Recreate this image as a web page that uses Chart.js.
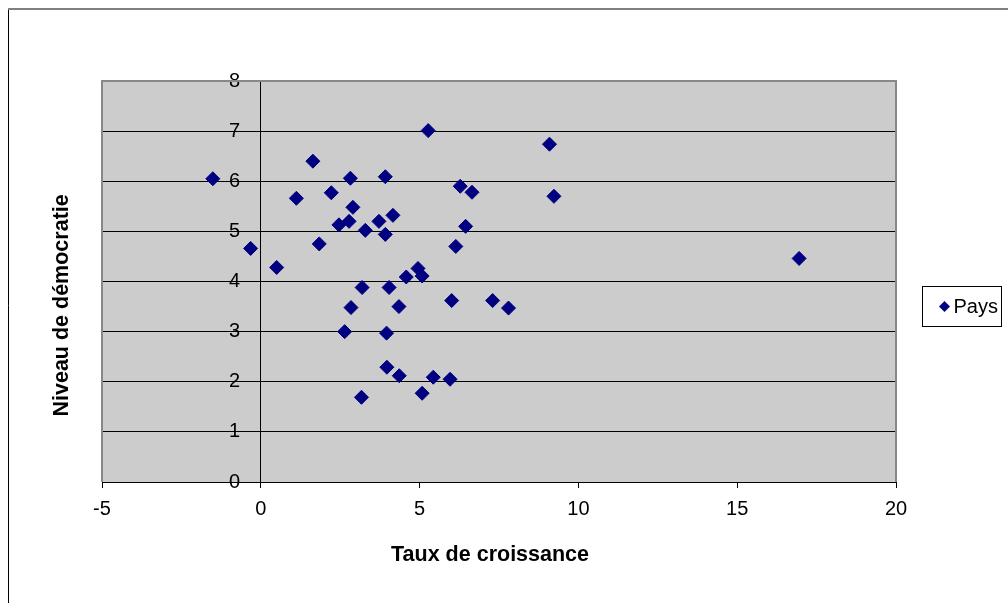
<!DOCTYPE html>
<html>
<head>
<meta charset="utf-8">
<script src="https://cdn.jsdelivr.net/npm/chart.js@4/dist/chart.umd.min.js"></script>
<style>
  html, body { margin: 0; padding: 0; background: #ffffff; }
  #c { display: block; }
</style>
</head>
<body>
<canvas id="c" width="1008" height="603"></canvas>
<script>
// ---- data ----
const seriesName = 'Pays';
const xTitle = 'Taux de croissance';
const yTitle = 'Niveau de démocratie';
const growthRates = [
  -1.51, -0.32, 0.50, 1.12, 1.64, 1.84, 2.22, 2.46, 2.78, 2.82,
  2.90, 3.29, 3.72, 3.92, 3.92, 4.16, 5.27, 6.28, 6.65, 6.45,
  6.14, 9.09, 9.23, 4.95, 5.08, 4.58, 3.19, 4.04, 6.01, 7.30,
  7.80, 2.84, 4.35, 2.64, 3.96, 3.97, 4.36, 5.43, 5.96, 5.08,
  3.17, 16.95
];
const democracyLevels = [
  6.05, 4.66, 4.28, 5.66, 6.40, 4.75, 5.77, 5.13, 5.20, 6.06,
  5.48, 5.02, 5.20, 6.09, 4.94, 5.32, 7.01, 5.90, 5.78, 5.10,
  4.70, 6.74, 5.70, 4.26, 4.11, 4.09, 3.88, 3.88, 3.62, 3.62,
  3.47, 3.48, 3.50, 3.00, 2.97, 2.29, 2.12, 2.09, 2.05, 1.77,
  1.69, 4.46
];
const xTicks = [-5, 0, 5, 10, 15, 20];
const yTicks = [0, 1, 2, 3, 4, 5, 6, 7, 8];

const points = growthRates.map((x, i) => ({ x: x, y: democracyLevels[i] }));

const FONT = '"Liberation Sans", Arial, sans-serif';

const framePlugin = {
  id: 'frame',
  beforeDraw(chart) {
    const { ctx, chartArea: a } = chart;
    ctx.save();
    ctx.fillStyle = '#cccccc';
    ctx.fillRect(a.left, a.top, a.right - a.left, a.bottom - a.top);
    // outer chart border
    ctx.strokeStyle = '#000000';
    ctx.lineWidth = 1;
    ctx.beginPath();
    ctx.moveTo(8.5, 8);
    ctx.lineTo(8.5, 603);
    ctx.stroke();
    ctx.strokeStyle = '#808080';
    ctx.lineWidth = 2;
    ctx.beginPath();
    ctx.moveTo(8, 9);
    ctx.lineTo(1008, 9);
    ctx.stroke();
    ctx.restore();
  },
  afterDraw(chart) {
    const { ctx, chartArea: a } = chart;
    ctx.save();
    ctx.strokeStyle = '#888888';
    ctx.lineWidth = 2;
    ctx.beginPath();
    ctx.moveTo(a.left, a.bottom);
    ctx.lineTo(a.left, a.top);
    ctx.lineTo(a.right, a.top);
    ctx.lineTo(a.right, a.bottom);
    ctx.stroke();
    ctx.restore();
    // legend box built from the dataset
    const ds = chart.data.datasets[0];
    const bx = 922.5, by = 286.5, bw = 79, bh = 40;
    ctx.save();
    ctx.fillStyle = '#ffffff';
    ctx.fillRect(bx, by, bw, bh);
    ctx.strokeStyle = '#000000';
    ctx.lineWidth = 1;
    ctx.strokeRect(bx, by, bw, bh);
    const r = 5.5, cx = bx + 22, cy = by + bh / 2;
    ctx.fillStyle = ds.backgroundColor;
    ctx.beginPath();
    ctx.moveTo(cx - r, cy); ctx.lineTo(cx, cy - r); ctx.lineTo(cx + r, cy); ctx.lineTo(cx, cy + r);
    ctx.closePath(); ctx.fill();
    ctx.fillStyle = '#000000';
    ctx.font = '20px ' + FONT;
    ctx.textBaseline = 'middle';
    ctx.textAlign = 'left';
    ctx.fillText(ds.label, bx + 31, cy + 1);
    ctx.restore();
  }
};

new Chart(document.getElementById('c'), {
  type: 'scatter',
  data: {
    datasets: [{
      label: seriesName,
      data: points,
      pointStyle: 'rectRot',
      pointRadius: 7,
      pointHoverRadius: 7,
      backgroundColor: '#000080',
      borderColor: '#000080',
      borderWidth: 1
    }]
  },
  options: {
    responsive: false,
    animation: false,
    devicePixelRatio: 1,
    layout: { padding: { left: 0, top: 81, right: 112, bottom: 0 } },
    plugins: { legend: { display: false }, tooltip: { enabled: false } },
    scales: {
      x: {
        type: 'linear',
        position: 'bottom',
        min: -5, max: 20,
        afterBuildTicks: (s) => { s.ticks = xTicks.map(v => ({ value: v })); },
        afterFit: (s) => { s.height = 121; },
        ticks: { color: '#000', font: { family: FONT, size: 20 }, padding: 9, maxRotation: 0 },
        grid: { drawOnChartArea: false, drawTicks: true, tickLength: 6, color: '#000', tickColor: '#000' },
        border: { display: true, color: '#000', width: 1 },
        title: {
          display: true, text: xTitle + '   ', color: '#000',
          font: { family: FONT, size: 21.5, weight: 'bold' },
          padding: { top: 0, bottom: 35 }
        }
      },
      y: {
        type: 'linear',
        position: { x: 0 },
        min: 0, max: 8,
        afterBuildTicks: (s) => { s.ticks = yTicks.map(v => ({ value: v })); },
        ticks: {
          color: '#000', font: { family: FONT, size: 20 },
          callback: (v) => String(v) + '   \u2009'
        },
        grid: {
          drawTicks: true, tickLength: 6, lineWidth: 1, tickColor: '#000',
          color: (c) => (c.tick && c.tick.value === 8) ? 'rgba(0,0,0,0)' : '#000'
        },
        border: { display: true, color: '#000', width: 1 }
      },
      yTitleAxis: {
        type: 'linear',
        axis: 'y',
        position: 'left',
        display: true,
        afterFit: (s) => { s.width = 102; },
        ticks: { display: false },
        grid: { display: false, drawTicks: false },
        border: { display: false },
        title: {
          display: true, text: yTitle + '        ', color: '#000',
          font: { family: FONT, size: 21.5, weight: 'bold' },
          padding: { top: 49, bottom: 0 }
        }
      }
    }
  },
  plugins: [framePlugin]
});
</script>
</body>
</html>
